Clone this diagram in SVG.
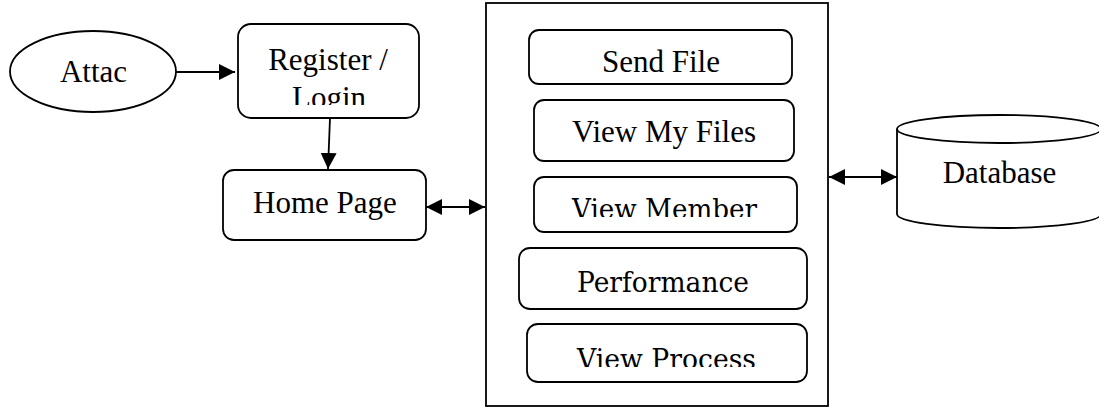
<svg xmlns="http://www.w3.org/2000/svg" width="1099" height="407" viewBox="0 0 1099 407">
  <style>
    .shape { fill: #ffffff; stroke: #000000; stroke-width: 1.8; }
    .line { fill: none; stroke: #000000; stroke-width: 1.8; }
    .t { font-family: "Liberation Serif", "Times New Roman", serif; font-size: 31px; fill: #000000; text-anchor: middle; }
    .c { font-family: "DejaVu Serif", "Liberation Serif", serif; font-size: 27px; fill: #000000; text-anchor: middle; }
  </style>
  <defs>
    <marker id="arrowEnd" viewBox="0 0 10 10" refX="10" refY="5" markerWidth="16" markerHeight="16" markerUnits="userSpaceOnUse" orient="auto">
      <path d="M0,0 L10,5 L0,10 Z" fill="#000000"/>
    </marker>
    <marker id="arrowStart" viewBox="0 0 10 10" refX="0" refY="5" markerWidth="16" markerHeight="16" markerUnits="userSpaceOnUse" orient="auto">
      <path d="M10,0 L0,5 L10,10 Z" fill="#000000"/>
    </marker>
    <clipPath id="clipLogin"><rect x="238" y="24" width="181" height="81"/></clipPath>
    <clipPath id="clipMember"><rect x="534" y="177" width="263" height="40"/></clipPath>
    <clipPath id="clipProcess"><rect x="527" y="324" width="280" height="43"/></clipPath>
  </defs>

  <!-- connectors -->
  <g id="connectors">
    <line class="line" x1="175" y1="72" x2="235" y2="72" marker-end="url(#arrowEnd)"/>
    <line class="line" x1="330" y1="118" x2="328" y2="169" marker-end="url(#arrowEnd)"/>
    <line class="line" x1="426" y1="207" x2="485" y2="207" marker-start="url(#arrowStart)" marker-end="url(#arrowEnd)"/>
    <line class="line" x1="829" y1="177" x2="897" y2="177" marker-start="url(#arrowStart)" marker-end="url(#arrowEnd)"/>
  </g>

  <g id="attac">
    <ellipse class="shape" cx="93" cy="71.5" rx="83" ry="40.5"/>
    <text class="t" x="93.5" y="82">Attac</text>
  </g>

  <g id="register-login">
    <rect class="shape" x="238" y="24" width="181" height="94" rx="13"/>
    <g clip-path="url(#clipLogin)">
      <text class="t" x="328" y="70">Register /</text>
      <text class="t" x="329" y="108">Login</text>
    </g>
  </g>

  <g id="home-page">
    <rect class="shape" x="223" y="170" width="203" height="70" rx="11"/>
    <text class="t" x="325" y="213">Home Page</text>
  </g>

  <g id="module-panel">
    <rect class="shape" x="486" y="3" width="342" height="403"/>
  </g>

  <g id="send-file">
    <rect class="shape" x="529" y="30" width="263" height="54" rx="10"/>
    <text class="t" x="661" y="72">Send File</text>
  </g>

  <g id="view-my-files">
    <rect class="shape" x="534" y="100" width="260" height="61" rx="10"/>
    <text class="t" x="664" y="142">View My Files</text>
  </g>

  <g id="view-member">
    <rect class="shape" x="534" y="177" width="263" height="55" rx="10"/>
    <text class="c" x="664.5" y="219" clip-path="url(#clipMember)" textLength="185" lengthAdjust="spacingAndGlyphs">View Member</text>
  </g>

  <g id="performance">
    <rect class="shape" x="519" y="248" width="288" height="61" rx="11"/>
    <text class="c" x="663" y="292" textLength="172" lengthAdjust="spacingAndGlyphs">Performance</text>
  </g>

  <g id="view-process">
    <rect class="shape" x="527" y="324" width="280" height="58" rx="11"/>
    <text class="c" x="666.5" y="369" clip-path="url(#clipProcess)" textLength="179" lengthAdjust="spacingAndGlyphs">View Process</text>
  </g>

  <g id="database">
    <path class="shape" d="M897,129 L897,214 A102,14 0 0 0 1101,214 L1101,129"/>
    <ellipse class="shape" cx="999" cy="129" rx="102" ry="14"/>
    <text class="t" x="999.5" y="183">Database</text>
  </g>
</svg>
